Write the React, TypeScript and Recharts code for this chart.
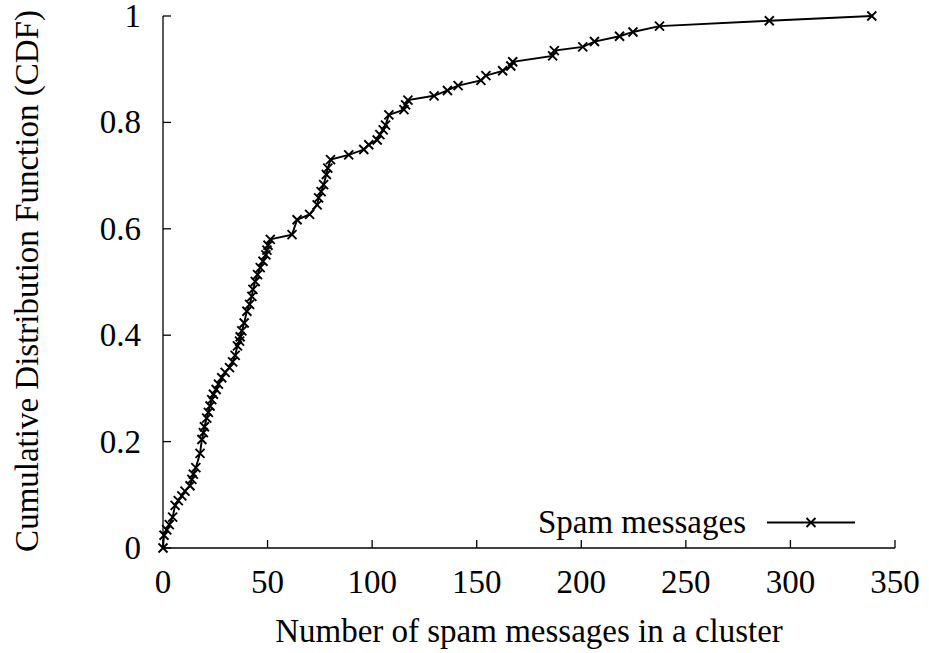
import { Label, Line, LineChart, XAxis, YAxis } from "recharts";

// cluster size vs cumulative fraction
const clusterSize = [
  0, 0.5, 1.8, 3, 4.6, 5.8, 7.3, 9, 10.5, 12.9, 13.8, 14.5, 15.7, 17.7, 18.6,
  19.3, 19.8, 20.9, 21.7, 22.5, 23.3, 24.1, 25.4, 26.5, 28.1, 29.7, 31.8, 33.3,
  34.5, 35.6, 36.6, 36.9, 37.7, 38.8, 40.1, 41.4, 42.5, 43, 44.1, 45.2, 46.5,
  47.8, 49.2, 49.7, 50.2, 51.3, 61.7, 64.1, 70.1, 73.7, 74.4, 75.6, 76.8, 78.1,
  78.8, 80.1, 88.8, 96, 98.4, 102.4, 103.7, 105.3, 106.4, 108, 115.2, 116,
  117.1, 129.6, 136, 141.1, 152, 154.4, 162.4, 166.3, 167.2, 186.3, 187.1,
  200.7, 206.3, 218.3, 224.7, 237.4, 289.9, 338.9,
];
const cdf = [
  0, 0.024, 0.034, 0.044, 0.058, 0.08, 0.089, 0.098, 0.107, 0.117, 0.129,
  0.139, 0.151, 0.178, 0.204, 0.217, 0.228, 0.244, 0.255, 0.267, 0.279, 0.289,
  0.298, 0.308, 0.32, 0.33, 0.339, 0.35, 0.362, 0.38, 0.389, 0.397, 0.408,
  0.423, 0.445, 0.458, 0.473, 0.486, 0.501, 0.514, 0.527, 0.539, 0.551, 0.56,
  0.569, 0.58, 0.589, 0.617, 0.627, 0.645, 0.658, 0.67, 0.683, 0.702, 0.714,
  0.73, 0.739, 0.749, 0.758, 0.767, 0.777, 0.786, 0.795, 0.814, 0.824, 0.833,
  0.842, 0.85, 0.86, 0.869, 0.879, 0.888, 0.897, 0.906, 0.914, 0.925, 0.935,
  0.942, 0.952, 0.962, 0.97, 0.981, 0.991, 1,
];
const xTicks = [0, 50, 100, 150, 200, 250, 300, 350];
const yTicks = [0, 0.2, 0.4, 0.6, 0.8, 1];
const seriesName = "Spam messages";
const xTitle = "Number of spam messages in a cluster";
const yTitle = "Cumulative Distribution Function (CDF)";

const data = clusterSize.map((x, i) => ({ x, y: cdf[i] }));

const W = 929;
const H = 653;
const FONT = '"Liberation Serif", "DejaVu Serif", serif';
const FS = 33;
const TICK = 8;

function Cross(props: any) {
  const { cx, cy } = props;
  if (cx == null || cy == null) return null;
  const r = 4.5;
  return (
    <path
      d={`M${cx - r},${cy - r}L${cx + r},${cy + r}M${cx - r},${cy + r}L${cx + r},${cy - r}`}
      stroke="#000"
      strokeWidth={1.9}
      fill="none"
    />
  );
}

function BottomTick(props: any) {
  const { x, y, payload } = props;
  return (
    <g>
      <line x1={x} y1={y} x2={x} y2={y - TICK} stroke="#000" strokeWidth={1.3} />
      <text x={x} y={y + 45} textAnchor="middle" fontFamily={FONT} fontSize={FS} fill="#000">
        {payload.value}
      </text>
    </g>
  );
}

function LeftTick(props: any) {
  const { x, y, payload } = props;
  return (
    <g>
      <line x1={x} y1={y} x2={x + TICK} y2={y} stroke="#000" strokeWidth={1.3} />
      <text x={x - 22} y={y + 11} textAnchor="end" fontFamily={FONT} fontSize={FS} fill="#000">
        {payload.value}
      </text>
    </g>
  );
}

function TopTick(props: any) {
  const { x, y } = props;
  return <line x1={x} y1={y} x2={x} y2={y + TICK} stroke="#000" strokeWidth={1.3} />;
}

function RightTick(props: any) {
  const { x, y } = props;
  return <line x1={x} y1={y} x2={x - TICK} y2={y} stroke="#000" strokeWidth={1.3} />;
}

export default function App() {
  return (
    <div style={{ position: "fixed", left: 0, top: 0, width: W, height: H, background: "#fff" }}>
      <LineChart width={W} height={H} data={data} margin={{ top: 16, right: 34, left: 0, bottom: 0 }}>
        <XAxis
          xAxisId="b"
          dataKey="x"
          type="number"
          domain={[0, 350]}
          ticks={xTicks}
          interval={0}
          height={105}
          tickSize={0}
          tickMargin={0}
          tickLine={false}
          axisLine={{ stroke: "#000", strokeWidth: 1.3 }}
          tick={<BottomTick />}
        >
          <Label
            content={() => (
              <text x={529} y={642} textAnchor="middle" fontFamily={FONT} fontSize={FS} fill="#000">
                {xTitle}
              </text>
            )}
          />
        </XAxis>
        <XAxis
          xAxisId="t"
          dataKey="x"
          type="number"
          orientation="top"
          domain={[0, 350]}
          ticks={xTicks}
          interval={0}
          height={0}
          tickSize={0}
          tickMargin={0}
          tickLine={false}
          axisLine={{ stroke: "#000", strokeWidth: 1.3 }}
          tick={<TopTick />}
        />
        <YAxis
          yAxisId="l"
          type="number"
          domain={[0, 1]}
          ticks={yTicks}
          interval={0}
          width={163}
          tickSize={0}
          tickMargin={0}
          tickLine={false}
          axisLine={{ stroke: "#000", strokeWidth: 1.3 }}
          tick={<LeftTick />}
        >
          <Label
            content={() => (
              <text
                x={0}
                y={0}
                transform="translate(38,281) rotate(-90)"
                textAnchor="middle"
                fontFamily={FONT}
                fontSize={FS}
                fill="#000"
              >
                {yTitle}
              </text>
            )}
          />
        </YAxis>
        <YAxis
          yAxisId="r"
          type="number"
          orientation="right"
          domain={[0, 1]}
          ticks={yTicks}
          interval={0}
          width={0}
          tickSize={0}
          tickMargin={0}
          tickLine={false}
          axisLine={{ stroke: "#000", strokeWidth: 1.3 }}
          tick={<RightTick />}
        />
        <Line
          xAxisId="b"
          yAxisId="l"
          type="linear"
          dataKey="y"
          name={seriesName}
          stroke="#000"
          strokeWidth={1.9}
          dot={<Cross />}
          activeDot={false}
          isAnimationActive={false}
        />
      </LineChart>
      <svg
        width={W}
        height={H}
        style={{ position: "absolute", left: 0, top: 0, pointerEvents: "none" }}
      >
        <text x={746} y={533} textAnchor="end" fontFamily={FONT} fontSize={FS} fill="#000">
          {seriesName}
        </text>
        <line x1={767} y1={522.5} x2={855} y2={522.5} stroke="#000" strokeWidth={1.9} />
        <Cross cx={811} cy={522.5} />
      </svg>
    </div>
  );
}
